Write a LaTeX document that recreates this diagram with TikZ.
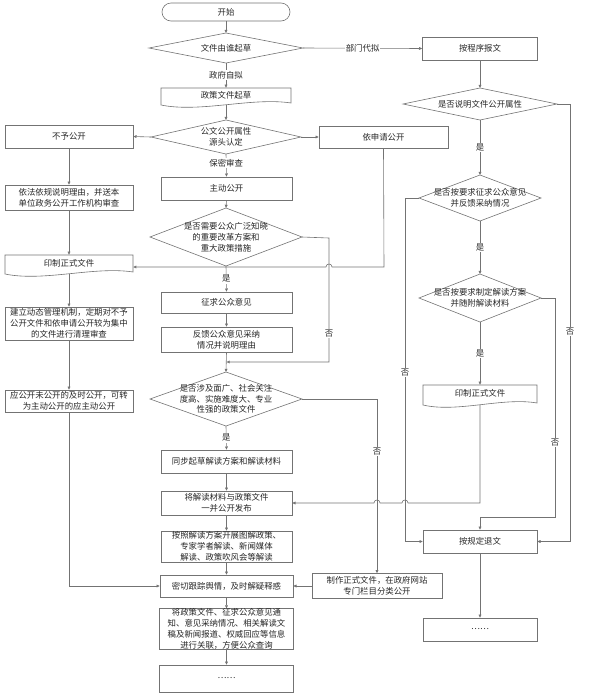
\documentclass[tikz,border=0pt]{standalone}
\usepackage{fontspec}
\setmainfont{Noto Sans CJK SC}
\usetikzlibrary{arrows.meta}
\newcommand\dmd[6]{%
  \draw[line] (#2,{#3-#5}) -- ({#2+#4},#3) -- (#2,{#3+#5}) -- ({#2-#4},#3) -- cycle;
  \coordinate (#1n) at (#2,{#3-#5});
  \coordinate (#1s) at (#2,{#3+#5});
  \coordinate (#1e) at ({#2+#4},#3);
  \coordinate (#1w) at ({#2-#4},#3);
  \node[btext] (#1) at (#2,#3) {#6};
}
\newcommand\wdoc[6]{%
  \node[btext, minimum width=#4pt, minimum height=#5pt] (#1) at (#2,{#3+#5/2}) {};
  \draw[line] ({#2-#4/2},#3) -- ({#2+#4/2},#3) -- ({#2+#4/2},{#3+#5-2}) .. controls ({#2+#4*0.2},{#3+#5-8}) and ({#2-#4*0.2},{#3+#5+8}) .. ({#2-#4/2},{#3+#5}) -- cycle;
  \node[btext] at (#2,{#3+#5/2-1.5}) {#6};
}
\begin{document}
\begin{tikzpicture}[x=1pt,y=-1pt,
  line/.style={draw=black!55, line width=0.6pt},
  arr/.style={line, -{Triangle[length=3.2pt,width=2.8pt]}},
  btext/.style={align=center, inner sep=0pt, text=black!85, font=\fontsize{8.4pt}{10.8pt}\selectfont},
  box/.style={btext, draw=black!55, line width=0.6pt, fill=white},
  lbl/.style={btext, fill=white, inner sep=1pt}
]
\useasboundingbox (0,0) rectangle (594,694);

% ---------- main column ----------
\node[box, rounded corners=9pt, minimum width=128pt, minimum height=18pt] (start) at (226,12) {开始};
\dmd{d1}{226}{48}{77}{15}{文件由谁起草}
\wdoc{draft}{226}{88}{130}{17}{政策文件起草}
\dmd{d2}{226}{137}{75}{17}{公文公开属性\\源头认定}
\node[box, minimum width=128pt, minimum height=23pt] (bzgk) at (69,136.5) {不予公开};
\node[box, minimum width=129pt, minimum height=22pt] (ysq) at (383.5,137) {依申请公开};
\node[box, minimum width=131pt, minimum height=23pt] (zdgk) at (226.5,188.5) {主动公开};
\node[box, minimum width=128pt, minimum height=25pt] (yfyg) at (69,197.5) {依法依规说明理由，并送本\\单位政务公开工作机构审查};
\dmd{d3}{226}{237}{76}{29}{是否需要公众广泛知晓\\的重要改革方案和\\重大政策措施}
\wdoc{lp}{69}{255}{128}{19}{印制正式文件}
\node[box, minimum width=131pt, minimum height=21pt] (zq) at (226.5,302.5) {征求公众意见};
\node[box, minimum width=131pt, minimum height=25pt] (fk) at (226.5,339.5) {反馈公众意见采纳\\情况并说明理由};
\node[box, minimum width=128pt, minimum height=33pt] (jl) at (69,323.5) {建立动态管理机制，定期对不予\\公开文件和依申请公开较为集中\\的文件进行清理审查};
\node[box, minimum width=128pt, minimum height=22pt] (ygk) at (69,401) {应公开未公开的及时公开，可转\\为主动公开的应主动公开};
\dmd{d4}{226}{399}{76}{27}{是否涉及面广、社会关注\\度高、实施难度大、专业\\性强的政策文件}
\node[box, minimum width=131pt, minimum height=23pt] (tb) at (226.5,461.5) {同步起草解读方案和解读材料};
\node[box, minimum width=131pt, minimum height=24pt] (jjd) at (226.5,503) {将解读材料与政策文件\\一并公开发布};
\node[box, minimum width=131pt, minimum height=31pt] (az) at (226.5,546.5) {按照解读方案开展图解政策、\\专家学者解读、新闻媒体\\解读、政策吹风会等解读};
\node[box, minimum width=133pt, minimum height=22pt] (mq) at (226.5,586) {密切跟踪舆情，及时解疑释惑};
\node[box, minimum width=130pt, minimum height=25pt] (zz) at (377,586) {制作正式文件，在政府网站\\专门栏目分类公开};
\node[box, minimum width=134pt, minimum height=38pt] (jzc) at (226.5,629) {将政策文件、征求公众意见通\\知、意见采纳情况、相关解读文\\稿及新闻报道、权威回应等信息\\进行关联，方便公众查询};
\node[box, minimum width=134pt, minimum height=27pt] (dots1) at (226.5,678.5) {……};

% ---------- right column ----------
\node[box, minimum width=115pt, minimum height=23pt] (bcx) at (480,48.5) {按程序报文};
\dmd{r1}{480}{104}{77}{16}{是否说明文件公开属性}
\dmd{r2}{480}{198}{61}{23}{是否按要求征求公众意见\\并反馈采纳情况}
\dmd{r3}{480}{298}{61}{24}{是否按要求制定解读方案\\并随附解读材料}
\wdoc{rp}{480}{385}{114}{20}{印制正式文件}
\node[box, minimum width=114pt, minimum height=23pt] (tw) at (480,541.5) {按规定退文};
\node[box, minimum width=114pt, minimum height=23pt] (dots2) at (480,629.5) {……};

% ---------- connectors: main ----------
\draw[arr] (start.south) -- (d1n);
\draw[arr] (d1e) -- node[lbl] {部门代拟} (bcx.west);
\draw[arr] (d1s) -- node[lbl] {政府自拟} (draft.north);
\draw[arr] (draft.south) -- (d2n);
\draw[arr] (d2w) -- (bzgk.east);
\draw[arr] (d2e) -- (ysq.west);
\draw[arr] (d2s) -- node[lbl, pos=0.4] {保密审查} (zdgk.north);
\draw[arr] (zdgk.south) -- (d3n);
\draw[arr] (bzgk.south) -- (yfyg.north);
\draw[arr] (yfyg.south) -- (lp.north);
\coordinate (jy) at (384,267);
\draw[arr] (ysq.south) -- (jy) -- (332,267) .. controls (332,263) and (326,263) .. (326,267) -- (lp.east |- jy);
\draw[arr] (d3s) -- node[lbl] {是} (zq.north);
\coordinate (m1) at (226.5,362);
\draw[arr] (d3e) -- (329,238) -- node[lbl, pos=0.77] {否} (329,362) -- (m1);
\draw[arr] (zq.south) -- (fk.north);
\draw[arr] (fk.south) -- (d4n);
\draw[arr] (lp.south) -- (jl.north);
\draw[arr] (jl.south) -- (ygk.north);
\draw[arr] (ygk.south) |- (mq.west);
\draw[arr] (d4s) -- node[lbl] {是} (tb.north);
\draw[arr] (d4e) -- (377,399) -- node[lbl, pos=0.3] {否} (zz.north);
\draw[arr] (tb.south) -- (jjd.north);
\draw[arr] (jjd.south) -- (az.north);
\draw[arr] (az.south) -- (mq.north);
\draw[arr] (mq.south) -- (jzc.north);
\draw[arr] (jzc.south) -- (dots1.north);
\draw[arr] (zz.west) -- (mq.east);

% ---------- connectors: right ----------
\draw[arr] (bcx.south) -- (r1n);
\draw[arr] (r1s) -- node[lbl] {是} (r2n);
\draw[arr] (r2s) -- node[lbl] {是} (r3n);
\draw[arr] (r3s) -- node[lbl] {是} (rp.north);
\draw[arr] (rp.south) -- (480,503) -- (408,503) .. controls (408,499) and (402,499) .. (402,503) -- (380,503) .. controls (380,499) and (374,499) .. (374,503) -- (jjd.east);
\draw[arr] (r1e) -- (570,104) -- node[lbl, pos=0.52] {否} (570,541.5) -- (tw.east);
\draw[arr] (r2w) -- (405,198) -- node[lbl, pos=0.507] {否} (405,541.5) -- (tw.west);
\draw[arr] (r3e) -- (555,298) -- node[lbl, pos=0.66] {否} (555,517) -- (480,517) -- (tw.north);
\draw[arr] (tw.south) -- (dots2.north);
\end{tikzpicture}
\end{document}
